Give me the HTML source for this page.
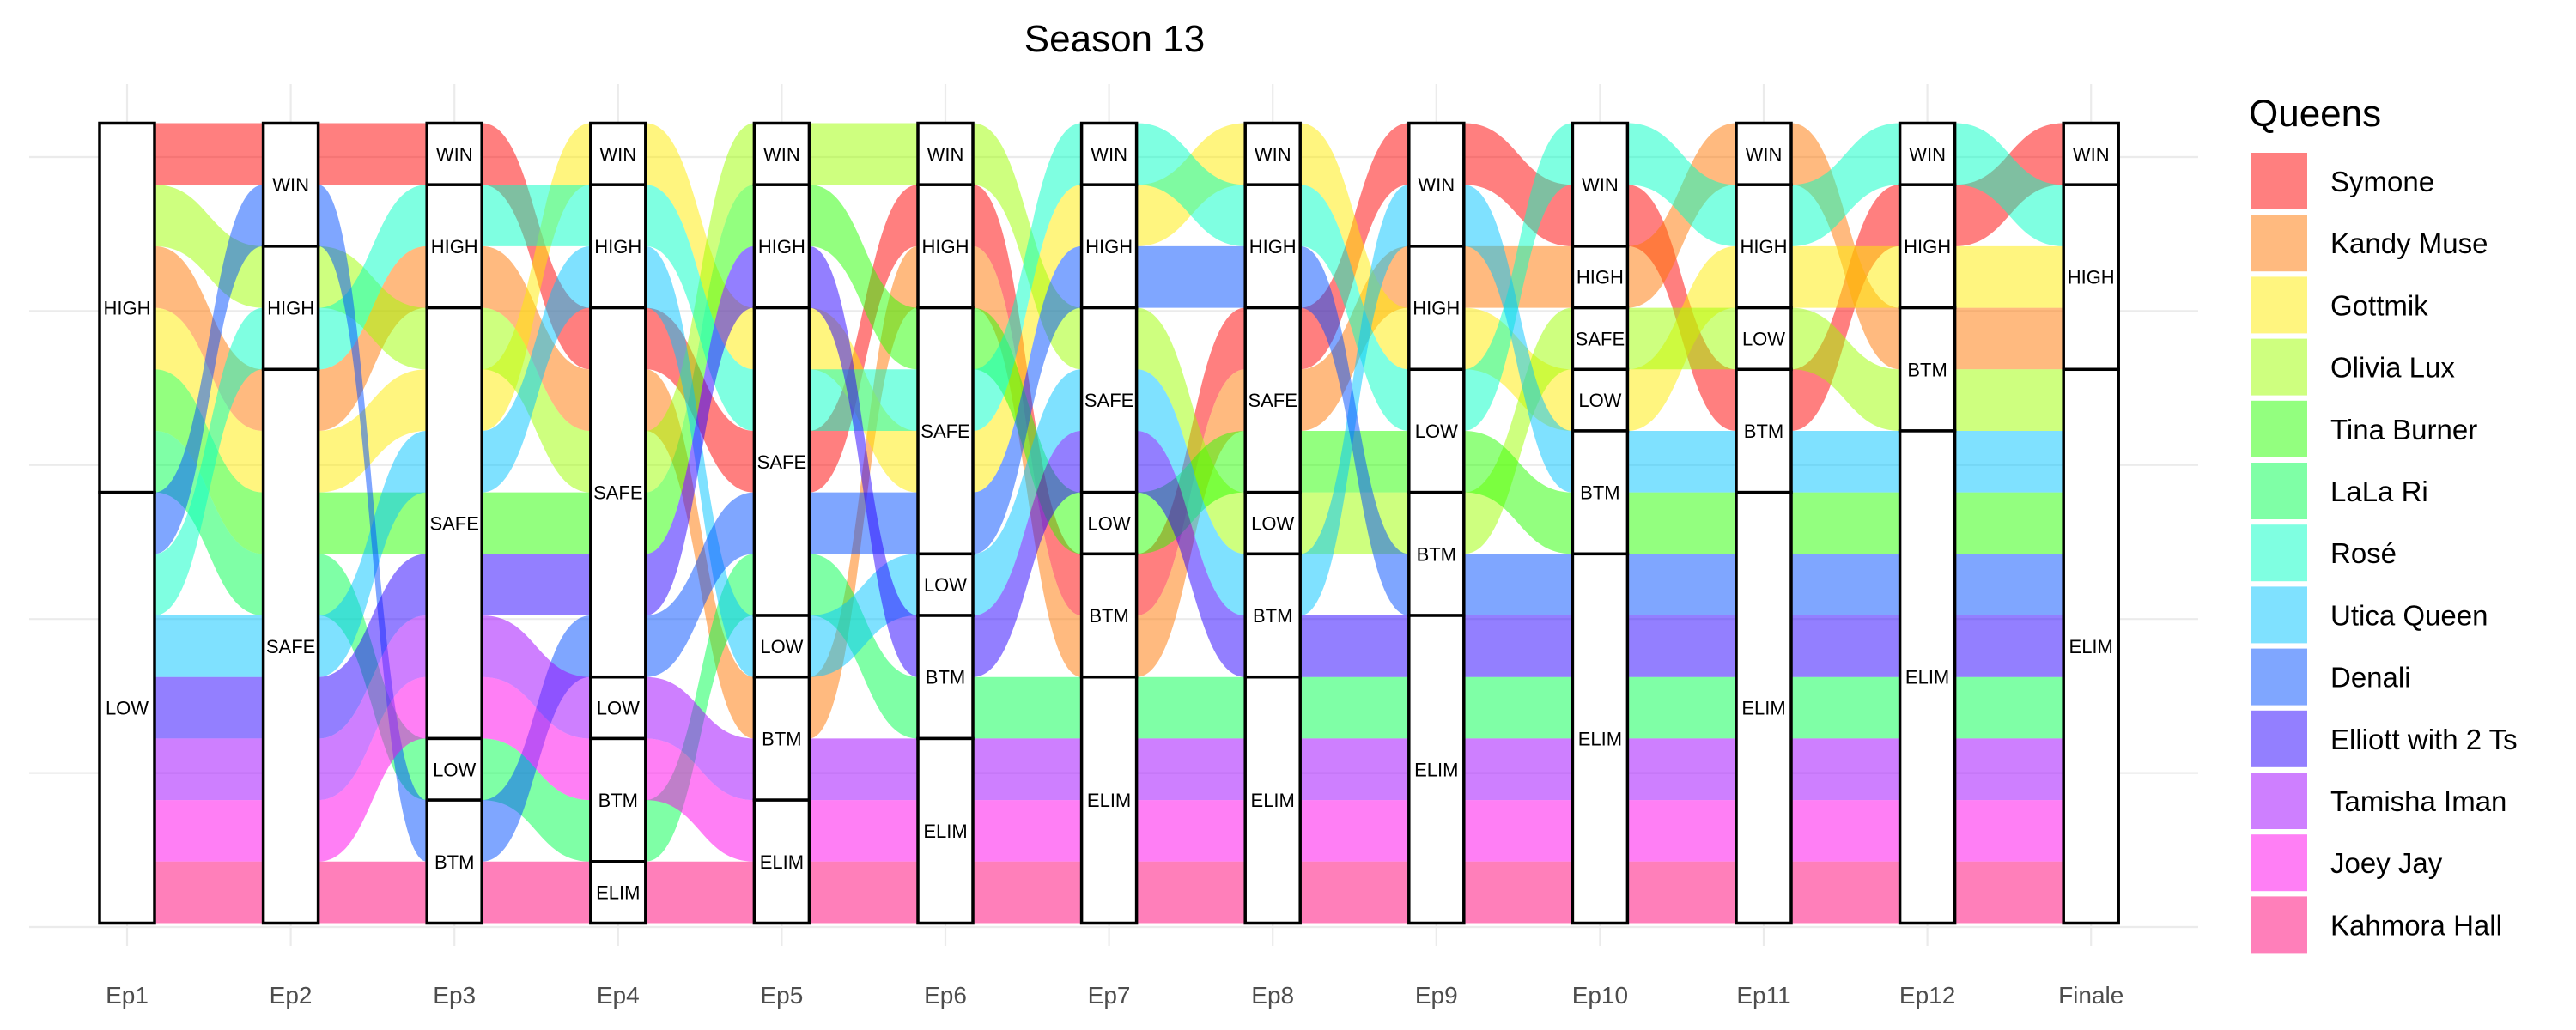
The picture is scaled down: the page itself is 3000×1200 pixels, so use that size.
<!DOCTYPE html>
<html><head><meta charset="utf-8"><style>
html,body{margin:0;padding:0;background:#fff;}
svg{display:block;font-family:"Liberation Sans",Arial,sans-serif;}
</style></head><body>
<svg id="chart" width="3000" height="1200" viewBox="0 0 3000 1200" xmlns="http://www.w3.org/2000/svg">
<rect width="3000" height="1200" fill="#fff"/>
<g id="grid"></g>
<g id="flows"></g>
<g id="strata"></g>
<g id="xaxis"></g>
<text x="1298" y="60" font-size="44" text-anchor="middle" fill="#000">Season 13</text>
<g id="legend"></g>
</svg>
<script>
const queens = ["Symone","Kandy Muse","Gottmik","Olivia Lux","Tina Burner","LaLa Ri","Rosé","Utica Queen","Denali","Elliott with 2 Ts","Tamisha Iman","Joey Jay","Kahmora Hall"];
const queenColors = ["#FF0000","#FF7600","#FFEC00","#9DFF00","#27FF00","#00FF4E","#00FFC4","#00C4FF","#004EFF","#2700FF","#9D00FF","#FF00EC","#FF0076"];
const episodes = ["Ep1","Ep2","Ep3","Ep4","Ep5","Ep6","Ep7","Ep8","Ep9","Ep10","Ep11","Ep12","Finale"];
const statusOrder = ["WIN","HIGH","SAFE","LOW","BTM","ELIM"];
const ep1 = {HIGH:["Symone","Olivia Lux","Kandy Muse","Gottmik","Tina Burner","LaLa Ri"], LOW:["Denali","Rosé","Utica Queen","Elliott with 2 Ts","Tamisha Iman","Joey Jay","Kahmora Hall"]};
const ep2 = {WIN:["Symone","Denali"], HIGH:["Olivia Lux","Rosé"], SAFE:["Kandy Muse","Gottmik","Tina Burner","LaLa Ri","Utica Queen","Elliott with 2 Ts","Tamisha Iman","Joey Jay","Kahmora Hall"]};
const ep3 = {WIN:["Symone"], HIGH:["Rosé","Kandy Muse"], SAFE:["Olivia Lux","Gottmik","Utica Queen","Tina Burner","Elliott with 2 Ts","Tamisha Iman","Joey Jay"], LOW:["LaLa Ri"], BTM:["Denali","Kahmora Hall"]};
const ep4 = {WIN:["Gottmik"], HIGH:["Rosé","Utica Queen"], SAFE:["Symone","Kandy Muse","Olivia Lux","Tina Burner","Elliott with 2 Ts","Denali"], LOW:["Tamisha Iman"], BTM:["Joey Jay","LaLa Ri"], ELIM:["Kahmora Hall"]};
const ep5 = {WIN:["Olivia Lux"], HIGH:["Tina Burner","Elliott with 2 Ts"], SAFE:["Gottmik","Rosé","Symone","Denali","LaLa Ri"], LOW:["Utica Queen"], BTM:["Kandy Muse","Tamisha Iman"], ELIM:["Joey Jay","Kahmora Hall"]};
const ep6 = {WIN:["Olivia Lux"], HIGH:["Symone","Kandy Muse"], SAFE:["Tina Burner","Rosé","Gottmik","Denali"], LOW:["Utica Queen"], BTM:["Elliott with 2 Ts","LaLa Ri"], ELIM:["Tamisha Iman","Joey Jay","Kahmora Hall"]};
const ep7 = {WIN:["Rosé"], HIGH:["Gottmik","Denali"], SAFE:["Olivia Lux","Utica Queen","Elliott with 2 Ts"], LOW:["Tina Burner"], BTM:["Symone","Kandy Muse"], ELIM:["LaLa Ri","Tamisha Iman","Joey Jay","Kahmora Hall"]};
const ep8 = {WIN:["Gottmik"], HIGH:["Rosé","Denali"], SAFE:["Symone","Kandy Muse","Tina Burner"], LOW:["Olivia Lux"], BTM:["Utica Queen","Elliott with 2 Ts"], ELIM:["LaLa Ri","Tamisha Iman","Joey Jay","Kahmora Hall"]};
const ep9 = {WIN:["Symone","Utica Queen"], HIGH:["Kandy Muse","Gottmik"], LOW:["Rosé","Tina Burner"], BTM:["Olivia Lux","Denali"], ELIM:["Elliott with 2 Ts","LaLa Ri","Tamisha Iman","Joey Jay","Kahmora Hall"]};
const ep10 = {WIN:["Rosé","Symone"], HIGH:["Kandy Muse"], SAFE:["Olivia Lux"], LOW:["Gottmik"], BTM:["Utica Queen","Tina Burner"], ELIM:["Denali","Elliott with 2 Ts","LaLa Ri","Tamisha Iman","Joey Jay","Kahmora Hall"]};
const ep11 = {WIN:["Kandy Muse"], HIGH:["Rosé","Gottmik"], LOW:["Olivia Lux"], BTM:["Symone","Utica Queen"], ELIM:["Tina Burner","Denali","Elliott with 2 Ts","LaLa Ri","Tamisha Iman","Joey Jay","Kahmora Hall"]};
const ep12 = {WIN:["Rosé"], HIGH:["Symone","Gottmik"], BTM:["Kandy Muse","Olivia Lux"], ELIM:["Utica Queen","Tina Burner","Denali","Elliott with 2 Ts","LaLa Ri","Tamisha Iman","Joey Jay","Kahmora Hall"]};
const finale = {WIN:["Symone"], HIGH:["Rosé","Gottmik","Kandy Muse"], ELIM:["Olivia Lux","Utica Queen","Tina Burner","Denali","Elliott with 2 Ts","LaLa Ri","Tamisha Iman","Joey Jay","Kahmora Hall"]};
const episodeData = [ep1,ep2,ep3,ep4,ep5,ep6,ep7,ep8,ep9,ep10,ep11,ep12,finale];
const gridTicks = [0,2.5,5,7.5,10,12.5];

const NS = "http://www.w3.org/2000/svg";
const TOP = 143.5, BOT = 1075.5, X0 = 148, DX = 190.6, HW = 32;
const nQ = queens.length;
const unit = (BOT - TOP) / nQ;
function xScale(i){ return X0 + i * DX; }
function yScale(slot){ return TOP + slot * unit; }
function yVal(v){ return 1080 - v * 71.76; }
function mk(tag, attrs, parent){ const e = document.createElementNS(NS, tag); for (const k in attrs) e.setAttribute(k, attrs[k]); parent.appendChild(e); return e; }

const grid = document.getElementById('grid');
gridTicks.forEach(t => {
  const y = yVal(t);
  const l = mk('line', {x1:34, x2:2560, y1:y, y2:y, stroke:'#ebebeb', 'stroke-width':2.2}, grid);
  
  
});
episodes.forEach((e, i) => {
  const l = mk('line', {x1:xScale(i), x2:xScale(i), y1:98, y2:1102, stroke:'#ebebeb', 'stroke-width':2.2}, grid);
  
  
});

const positions = episodeData.map(ep => {
  const pos = {}; const strata = []; let s = 0;
  statusOrder.forEach(st => {
    if (!ep[st]) return;
    strata.push({status: st, start: s, n: ep[st].length});
    ep[st].forEach(q => { pos[q] = s; s++; });
  });
  return {pos, strata};
});

const flows = document.getElementById('flows');
for (let i = 0; i < episodes.length - 1; i++) {
  const xa = xScale(i) + HW, xb = xScale(i + 1) - HW, xm = (xa + xb) / 2;
  queens.forEach((q, qi) => {
    const a = positions[i].pos[q], b = positions[i + 1].pos[q];
    const ya = yScale(a), yb = yScale(b), ya2 = yScale(a + 1), yb2 = yScale(b + 1);
    const d = `M${xa},${ya} C${xm},${ya} ${xm},${yb} ${xb},${yb} L${xb},${yb2} C${xm},${yb2} ${xm},${ya2} ${xa},${ya2} Z`;
    const p = mk('path', {d, fill: queenColors[qi], 'fill-opacity': 0.5}, flows);
    
    
  });
}

const strataG = document.getElementById('strata');
positions.forEach((ep, i) => {
  ep.strata.forEach(st => {
    const y1 = yScale(st.start), y2 = yScale(st.start + st.n);
    const r = mk('rect', {x: xScale(i) - HW, y: y1, width: HW * 2, height: y2 - y1, fill:'#fff', stroke:'#000', 'stroke-width':3.5}, strataG);
    
    
    const t = mk('text', {x: xScale(i), y: (y1 + y2) / 2 + 8, 'font-size': 22, 'text-anchor':'middle', fill:'#000'}, strataG);
    t.textContent = st.status;
    
    
  });
});

const xaxis = document.getElementById('xaxis');
episodes.forEach((e, i) => {
  const t = mk('text', {x: xScale(i), y: 1169, 'font-size': 28, 'text-anchor':'middle', fill:'#4d4d4d'}, xaxis);
  t.textContent = e;
  
  
});

const legend = document.getElementById('legend');
const lt = mk('text', {x: 2619, y: 147, 'font-size': 44, fill:'#000'}, legend);
lt.textContent = 'Queens';


queens.forEach((q, qi) => {
  const y = 178 + qi * 72.2;
  const r = mk('rect', {x: 2621, y: y, width: 66, height: 66, fill: queenColors[qi], 'fill-opacity': 0.5}, legend);
  
  
  const t = mk('text', {x: 2714, y: y + 45, 'font-size': 33, fill:'#000'}, legend);
  t.textContent = q;
  
  
});
</script>
</body></html>
